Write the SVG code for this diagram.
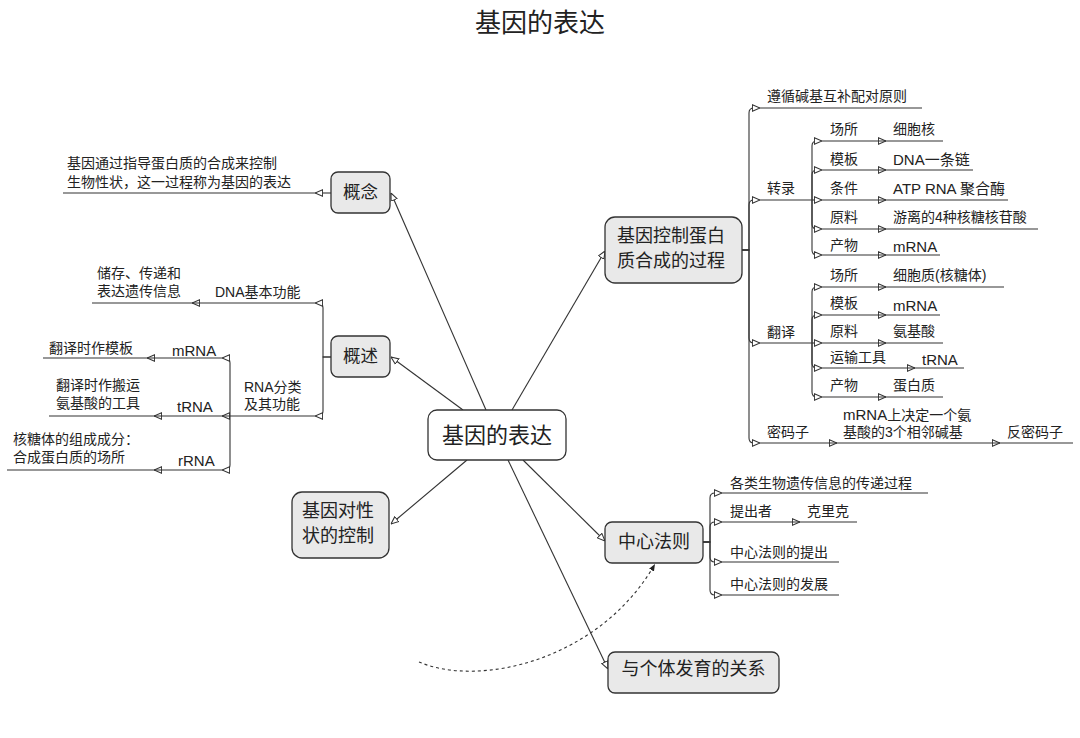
<svg xmlns="http://www.w3.org/2000/svg" width="1080" height="738" viewBox="0 0 1080 738">
<style>
text{font-family:"Liberation Sans","Noto Sans CJK SC",sans-serif;fill:#222}
.t{font-size:14px}
.n{font-size:17.5px}
.c{stroke:#333;stroke-width:1.1;fill:none}
.u{stroke:#333;stroke-width:1.2}
.box{fill:#e9e9e9;stroke:#333;stroke-width:1.3}
.root{fill:#fff;stroke:#333;stroke-width:1.3}
</style>
<defs>
<marker id="a" viewBox="0 0 10 10" refX="10" refY="5" markerWidth="8" markerHeight="8" markerUnits="userSpaceOnUse" orient="auto">
<path d="M0.5,1 L10,5 L0.5,9 Z" fill="#fff" stroke="#333" stroke-width="1.3"/>
</marker>
<marker id="af" viewBox="0 0 10 10" refX="10" refY="5" markerWidth="7" markerHeight="7" markerUnits="userSpaceOnUse" orient="auto">
<path d="M0,1 L10,5 L0,9 Z" fill="#222"/>
</marker>
</defs>
<rect width="1080" height="738" fill="#fff"/>
<text x="540" y="32" text-anchor="middle" style="font-size:26px">基因的表达</text>

<g id="connectors">
<path class="c" d="M486,410 L391,193" marker-end="url(#a)"/>
<path class="c" d="M463,410 L391,357" marker-end="url(#a)"/>
<path class="c" d="M512,410 L605,251" marker-end="url(#a)"/>
<path class="c" d="M467,460 L391,524" marker-end="url(#a)"/>
<path class="c" d="M523,460 L605,541" marker-end="url(#a)"/>
<path class="c" d="M508,460 L608,669" marker-end="url(#a)"/>
<path class="c" d="M419,662 C480,688 600,660 655,564" stroke-dasharray="3,3" marker-end="url(#af)"/>
<!-- left -->
<path class="c" d="M331,193 H315" marker-end="url(#a)"/>
<path class="c" d="M331,357 H323 V308 Q323,303 318,303 H315" marker-end="url(#a)"/>
<path class="c" d="M331,357 H323 V411 Q323,416 318,416 H315" marker-end="url(#a)"/>
<path class="c" d="M200,303 H192" marker-end="url(#a)"/>
<path class="c" d="M230,416 V363 Q230,358 225,358 H222" marker-end="url(#a)"/>
<path class="c" d="M230,416 H222" marker-end="url(#a)"/>
<path class="c" d="M230,416 V465 Q230,470 225,470 H222" marker-end="url(#a)"/>
<path class="c" d="M155,358 H147" marker-end="url(#a)"/>
<path class="c" d="M162,416 H154" marker-end="url(#a)"/>
<path class="c" d="M162,470 H154" marker-end="url(#a)"/>
<!-- right: 基因控制 -->
<path class="c" d="M742,250 H749 V113 Q749,108 754,108 H760" marker-end="url(#a)"/>
<path class="c" d="M742,250 H749 V205 Q749,200 754,200 H760" marker-end="url(#a)"/>
<path class="c" d="M742,250 H749 V338 Q749,343 754,343 H760" marker-end="url(#a)"/>
<path class="c" d="M742,250 H749 V438 Q749,443 754,443 H760" marker-end="url(#a)"/>
<path class="c" d="M812,200 V146 Q812,141 817,141 H822" marker-end="url(#a)"/>
<path class="c" d="M812,200 V175 Q812,170 817,170 H822" marker-end="url(#a)"/>
<path class="c" d="M812,200 H822" marker-end="url(#a)"/>
<path class="c" d="M812,200 V224 Q812,229 817,229 H822" marker-end="url(#a)"/>
<path class="c" d="M812,200 V250 Q812,255 817,255 H822" marker-end="url(#a)"/>
<path class="c" d="M812,343 V292 Q812,287 817,287 H822" marker-end="url(#a)"/>
<path class="c" d="M812,343 V320 Q812,315 817,315 H822" marker-end="url(#a)"/>
<path class="c" d="M812,343 H822" marker-end="url(#a)"/>
<path class="c" d="M812,343 V363 Q812,368 817,368 H822" marker-end="url(#a)"/>
<path class="c" d="M812,343 V392 Q812,397 817,397 H822" marker-end="url(#a)"/>
<path class="c" d="M878,141 H886" marker-end="url(#a)"/>
<path class="c" d="M878,170 H886" marker-end="url(#a)"/>
<path class="c" d="M878,200 H886" marker-end="url(#a)"/>
<path class="c" d="M878,229 H886" marker-end="url(#a)"/>
<path class="c" d="M878,255 H886" marker-end="url(#a)"/>
<path class="c" d="M878,287 H886" marker-end="url(#a)"/>
<path class="c" d="M878,315 H886" marker-end="url(#a)"/>
<path class="c" d="M878,343 H886" marker-end="url(#a)"/>
<path class="c" d="M907,368 H915" marker-end="url(#a)"/>
<path class="c" d="M878,397 H886" marker-end="url(#a)"/>
<path class="c" d="M829,443 H837" marker-end="url(#a)"/>
<path class="c" d="M992,443 H1000" marker-end="url(#a)"/>
<!-- right: 中心法则 -->
<path class="c" d="M703,542 H710 V498 Q710,493 715,493 H722" marker-end="url(#a)"/>
<path class="c" d="M703,542 H710 V527 Q710,522 715,522 H722" marker-end="url(#a)"/>
<path class="c" d="M703,542 H710 V557 Q710,562 715,562 H722" marker-end="url(#a)"/>
<path class="c" d="M703,542 H710 V590 Q710,595 715,595 H722" marker-end="url(#a)"/>
<path class="c" d="M792,522 H800" marker-end="url(#a)"/>
</g>

<g id="root"><rect class="root" x="428" y="410" width="138" height="50" rx="9"/><text x="497" y="443" text-anchor="middle" style="font-size:22px">基因的表达</text></g>
<g id="gainian"><rect class="box" x="331" y="172" width="59" height="41" rx="7"/><text class="n" x="360.5" y="198" text-anchor="middle">概念</text></g>
<g id="gaishu"><rect class="box" x="331" y="336" width="59" height="41" rx="7"/><text class="n" x="360.5" y="362" text-anchor="middle">概述</text></g>
<g id="kongzhi"><rect class="box" x="605" y="217" width="137" height="66" rx="10"/><text x="671" y="241.5" text-anchor="middle" style="font-size:18px">基因控制蛋白</text><text x="671" y="266.5" text-anchor="middle" style="font-size:18px">质合成的过程</text></g>
<g id="xingzhuang"><rect class="box" x="292" y="492" width="97" height="66" rx="10"/><text x="338" y="516.5" text-anchor="middle" style="font-size:18px">基因对性</text><text x="338" y="541.5" text-anchor="middle" style="font-size:18px">状的控制</text></g>
<g id="zhongxin"><rect class="box" x="605" y="522" width="98" height="41" rx="7"/><text x="654" y="547.5" text-anchor="middle" style="font-size:18px">中心法则</text></g>
<g id="fayu"><rect class="box" x="608" y="652" width="171" height="41" rx="7"/><text x="693.5" y="674.5" text-anchor="middle" style="font-size:18px">与个体发育的关系</text></g>

<!-- left topics -->
<g id="def"><line class="u" x1="63" y1="193" x2="315" y2="193"/><text class="t" x="67" y="168">基因通过指导蛋白质的合成来控制</text><text class="t" x="67" y="187">生物性状，这一过程称为基因的表达</text></g>
<g id="dna"><line class="u" x1="192" y1="303" x2="315" y2="303"/><text class="t" x="215" y="297">DNA基本功能</text></g>
<g id="chucun"><line class="u" x1="92" y1="303" x2="192" y2="303"/><text class="t" x="97" y="278">储存、传递和</text><text class="t" x="97" y="296">表达遗传信息</text></g>
<g id="rna"><line class="u" x1="222" y1="416" x2="315" y2="416"/><text class="t" x="244" y="392">RNA分类</text><text class="t" x="244" y="409">及其功能</text></g>
<g id="mrna-l"><line class="u" x1="147" y1="358" x2="222" y2="358"/><text class="t" x="172" y="356" style="font-size:15px">mRNA</text></g>
<g id="mrna-f"><line class="u" x1="43" y1="358" x2="147" y2="358"/><text class="t" x="49" y="353">翻译时作模板</text></g>
<g id="trna-l"><line class="u" x1="154" y1="416" x2="222" y2="416"/><text class="t" x="177" y="412" style="font-size:15px">tRNA</text></g>
<g id="trna-f"><line class="u" x1="49" y1="416" x2="154" y2="416"/><text class="t" x="56" y="390">翻译时作搬运</text><text class="t" x="56" y="408">氨基酸的工具</text></g>
<g id="rrna-l"><line class="u" x1="154" y1="470" x2="222" y2="470"/><text class="t" x="178" y="466" style="font-size:15px">rRNA</text></g>
<g id="rrna-f"><line class="u" x1="7" y1="470" x2="154" y2="470"/><text class="t" x="13" y="444">核糖体的组成成分：</text><text class="t" x="13" y="462">合成蛋白质的场所</text></g>

<!-- right topics -->
<g id="zunxun"><line class="u" x1="760" y1="108" x2="922" y2="108"/><text class="t" x="767" y="101">遵循碱基互补配对原则</text></g>
<g id="zhuanlu"><line class="u" x1="760" y1="200" x2="812" y2="200"/><text class="t" x="767" y="193">转录</text></g>
<g id="zl-1"><line class="u" x1="822" y1="141" x2="886" y2="141"/><text class="t" x="830" y="134">场所</text></g>
<g id="zl-1v"><line class="u" x1="886" y1="141" x2="943" y2="141"/><text class="t" x="893" y="134">细胞核</text></g>
<g id="zl-2"><line class="u" x1="822" y1="170" x2="886" y2="170"/><text class="t" x="830" y="164">模板</text></g>
<g id="zl-2v"><line class="u" x1="886" y1="170" x2="973" y2="170"/><text class="t" x="893" y="165" style="font-size:15px">DNA一条链</text></g>
<g id="zl-3"><line class="u" x1="822" y1="200" x2="886" y2="200"/><text class="t" x="830" y="193">条件</text></g>
<g id="zl-3v"><line class="u" x1="886" y1="200" x2="1008" y2="200"/><text class="t" x="893" y="194" style="font-size:15px">ATP RNA 聚合酶</text></g>
<g id="zl-4"><line class="u" x1="822" y1="229" x2="886" y2="229"/><text class="t" x="830" y="222">原料</text></g>
<g id="zl-4v"><line class="u" x1="886" y1="229" x2="1038" y2="229"/><text class="t" x="893" y="222">游离的4种核糖核苷酸</text></g>
<g id="zl-5"><line class="u" x1="822" y1="255" x2="886" y2="255"/><text class="t" x="830" y="250">产物</text></g>
<g id="zl-5v"><line class="u" x1="886" y1="255" x2="940" y2="255"/><text class="t" x="893" y="252" style="font-size:15px">mRNA</text></g>
<g id="fanyi"><line class="u" x1="760" y1="343" x2="812" y2="343"/><text class="t" x="767" y="337">翻译</text></g>
<g id="fy-1"><line class="u" x1="822" y1="287" x2="886" y2="287"/><text class="t" x="830" y="280">场所</text></g>
<g id="fy-1v"><line class="u" x1="886" y1="287" x2="1004" y2="287"/><text class="t" x="893" y="280">细胞质(核糖体)</text></g>
<g id="fy-2"><line class="u" x1="822" y1="315" x2="886" y2="315"/><text class="t" x="830" y="308">模板</text></g>
<g id="fy-2v"><line class="u" x1="886" y1="315" x2="940" y2="315"/><text class="t" x="893" y="311" style="font-size:15px">mRNA</text></g>
<g id="fy-3"><line class="u" x1="822" y1="343" x2="886" y2="343"/><text class="t" x="830" y="336">原料</text></g>
<g id="fy-3v"><line class="u" x1="886" y1="343" x2="943" y2="343"/><text class="t" x="893" y="336">氨基酸</text></g>
<g id="fy-4"><line class="u" x1="822" y1="368" x2="915" y2="368"/><text class="t" x="830" y="362">运输工具</text></g>
<g id="fy-4v"><line class="u" x1="915" y1="368" x2="964" y2="368"/><text class="t" x="922" y="365" style="font-size:15px">tRNA</text></g>
<g id="fy-5"><line class="u" x1="822" y1="397" x2="886" y2="397"/><text class="t" x="830" y="390">产物</text></g>
<g id="fy-5v"><line class="u" x1="886" y1="397" x2="943" y2="397"/><text class="t" x="893" y="390">蛋白质</text></g>
<g id="mimazi"><line class="u" x1="760" y1="443" x2="837" y2="443"/><text class="t" x="767" y="437">密码子</text></g>
<g id="mmz-def"><line class="u" x1="837" y1="443" x2="1000" y2="443"/><text class="t" x="843" y="420"><tspan style="font-size:15px">mRNA</tspan>上决定一个氨</text><text class="t" x="843" y="437">基酸的3个相邻碱基</text></g>
<g id="fanmimazi"><line class="u" x1="1000" y1="443" x2="1073" y2="443"/><text class="t" x="1007" y="437">反密码子</text></g>
<g id="zx-1"><line class="u" x1="722" y1="493" x2="928" y2="493"/><text class="t" x="730" y="488">各类生物遗传信息的传递过程</text></g>
<g id="zx-2"><line class="u" x1="722" y1="522" x2="800" y2="522"/><text class="t" x="730" y="516">提出者</text></g>
<g id="zx-2v"><line class="u" x1="800" y1="522" x2="857" y2="522"/><text class="t" x="807" y="516">克里克</text></g>
<g id="zx-3"><line class="u" x1="722" y1="562" x2="839" y2="562"/><text class="t" x="730" y="557">中心法则的提出</text></g>
<g id="zx-4"><line class="u" x1="722" y1="595" x2="839" y2="595"/><text class="t" x="730" y="589">中心法则的发展</text></g>
</svg>
